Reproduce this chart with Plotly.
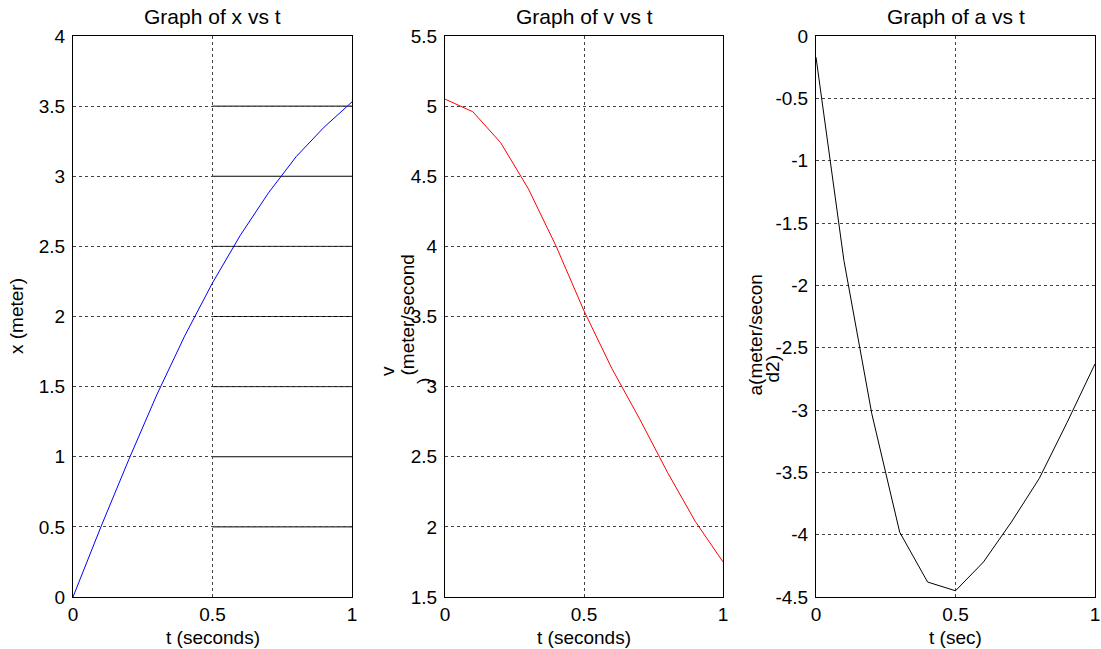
import plotly.graph_objects as go

t = [0, 0.1, 0.2, 0.3, 0.4, 0.5, 0.6, 0.7, 0.8, 0.9, 1.0]
x_vals = [0, 0.50, 0.98, 1.44, 1.86, 2.24, 2.58, 2.88, 3.14, 3.35, 3.53]
v_vals = [5.05, 4.96, 4.74, 4.41, 4.00, 3.54, 3.13, 2.77, 2.39, 2.04, 1.75]
a_vals = [-0.17, -1.80, -3.03, -3.98, -4.38, -4.45, -4.22, -3.90, -3.55, -3.10, -2.63]

titles = ["Graph of x vs t", "Graph of v vs t", "Graph of a vs t"]
xlabels = ["t (seconds)", "t (seconds)", "t (sec)"]
x_ticks = [0, 0.5, 1]
x_ticktext = ["0", "0.5", "1"]
y1_ticks = [0, 0.5, 1, 1.5, 2, 2.5, 3, 3.5, 4]
y2_ticks = [1.5, 2, 2.5, 3, 3.5, 4, 4.5, 5, 5.5]
y3_ticks = [0, -0.5, -1, -1.5, -2, -2.5, -3, -3.5, -4, -4.5]

W, H = 1101, 649
FONT = "Liberation Sans, Arial, sans-serif"
TICK_SIZE = 19
LABEL_SIZE = 19
TITLE_SIZE = 21

def px(xp):
    return xp / W

def py(yp):
    return 1 - yp / H

def fmt(v):
    return "%g" % v  # plain hyphen-minus as in the original

fig = go.Figure()
fig.add_trace(go.Scatter(x=t, y=x_vals, mode="lines", line=dict(color="#0000ff", width=1), xaxis="x", yaxis="y"))
fig.add_trace(go.Scatter(x=t, y=v_vals, mode="lines", line=dict(color="#ff0000", width=1), xaxis="x2", yaxis="y2"))
fig.add_trace(go.Scatter(x=t, y=a_vals, mode="lines", line=dict(color="#000000", width=1), xaxis="x3", yaxis="y3"))

doms = [(73, 352), (445, 723), (816, 1095)]
ydom = [py(597), py(36)]
yranges = [[0, 4], [1.5, 5.5], [-4.5, 0]]
yticks = [y1_ticks, y2_ticks, y3_ticks]

common_axis = dict(
    showline=True, linecolor="black", linewidth=1, mirror=True,
    showgrid=True, gridcolor="#444444", griddash="dot", gridwidth=1,
    zeroline=False, ticks="", automargin=False,
    tickfont=dict(family=FONT, size=TICK_SIZE, color="black"),
)

layout = dict(
    width=W, height=H,
    margin=dict(l=0, r=0, t=0, b=0),
    paper_bgcolor="white", plot_bgcolor="white",
    showlegend=False,
    font=dict(family=FONT, size=LABEL_SIZE, color="black"),
)

annotations = []
for i in range(3):
    sx = "" if i == 0 else str(i + 1)
    layout["xaxis" + sx] = dict(
        common_axis, domain=[px(doms[i][0]), px(doms[i][1])], range=[0, 1],
        tickvals=x_ticks, ticktext=x_ticktext, anchor="y" + sx, ticklabelstandoff=0,
    )
    layout["yaxis" + sx] = dict(
        common_axis, domain=ydom, range=yranges[i],
        tickvals=yticks[i], ticktext=[fmt(v) for v in yticks[i]], anchor="x" + sx,
        ticklabelstandoff=3,
    )
    cx = (doms[i][0] + doms[i][1]) / 2
    annotations.append(dict(text=titles[i], x=px(cx), y=py(17), xref="paper", yref="paper",
                            showarrow=False, xanchor="center", yanchor="middle",
                            font=dict(family=FONT, size=TITLE_SIZE, color="black")))
    annotations.append(dict(text=xlabels[i], x=px(cx), y=py(637), xref="paper", yref="paper",
                            showarrow=False, xanchor="center", yanchor="middle",
                            font=dict(family=FONT, size=LABEL_SIZE, color="black")))

def ylab(text, xc, yp, anchor):
    annotations.append(dict(text=text, x=px(xc), y=py(yp), xref="paper", yref="paper",
                            showarrow=False, textangle=-90, xanchor="center", yanchor=anchor,
                            font=dict(family=FONT, size=LABEL_SIZE, color="black")))

ylab("x (meter)", 16, 316, "middle")
ylab("v", 387, 378, "bottom")
ylab("(meter/second", 407, 378, "bottom")
ylab(")", 423, 386, "bottom")
ylab("a(meter/secon", 755, 398, "bottom")
ylab("d2)", 772, 385, "bottom")

layout["annotations"] = annotations

shapes = []
for yv in [0.5, 1, 1.5, 2, 2.5, 3, 3.5]:
    shapes.append(dict(type="line", xref="x", yref="y", x0=0.5, x1=1, y0=yv, y1=yv,
                       line=dict(color="black", width=1), layer="below"))
layout["shapes"] = shapes

fig.update_layout(**layout)
fig.write_html("out.html", config={"displayModeBar": False},
               post_script="document.body.style.margin='0';")
